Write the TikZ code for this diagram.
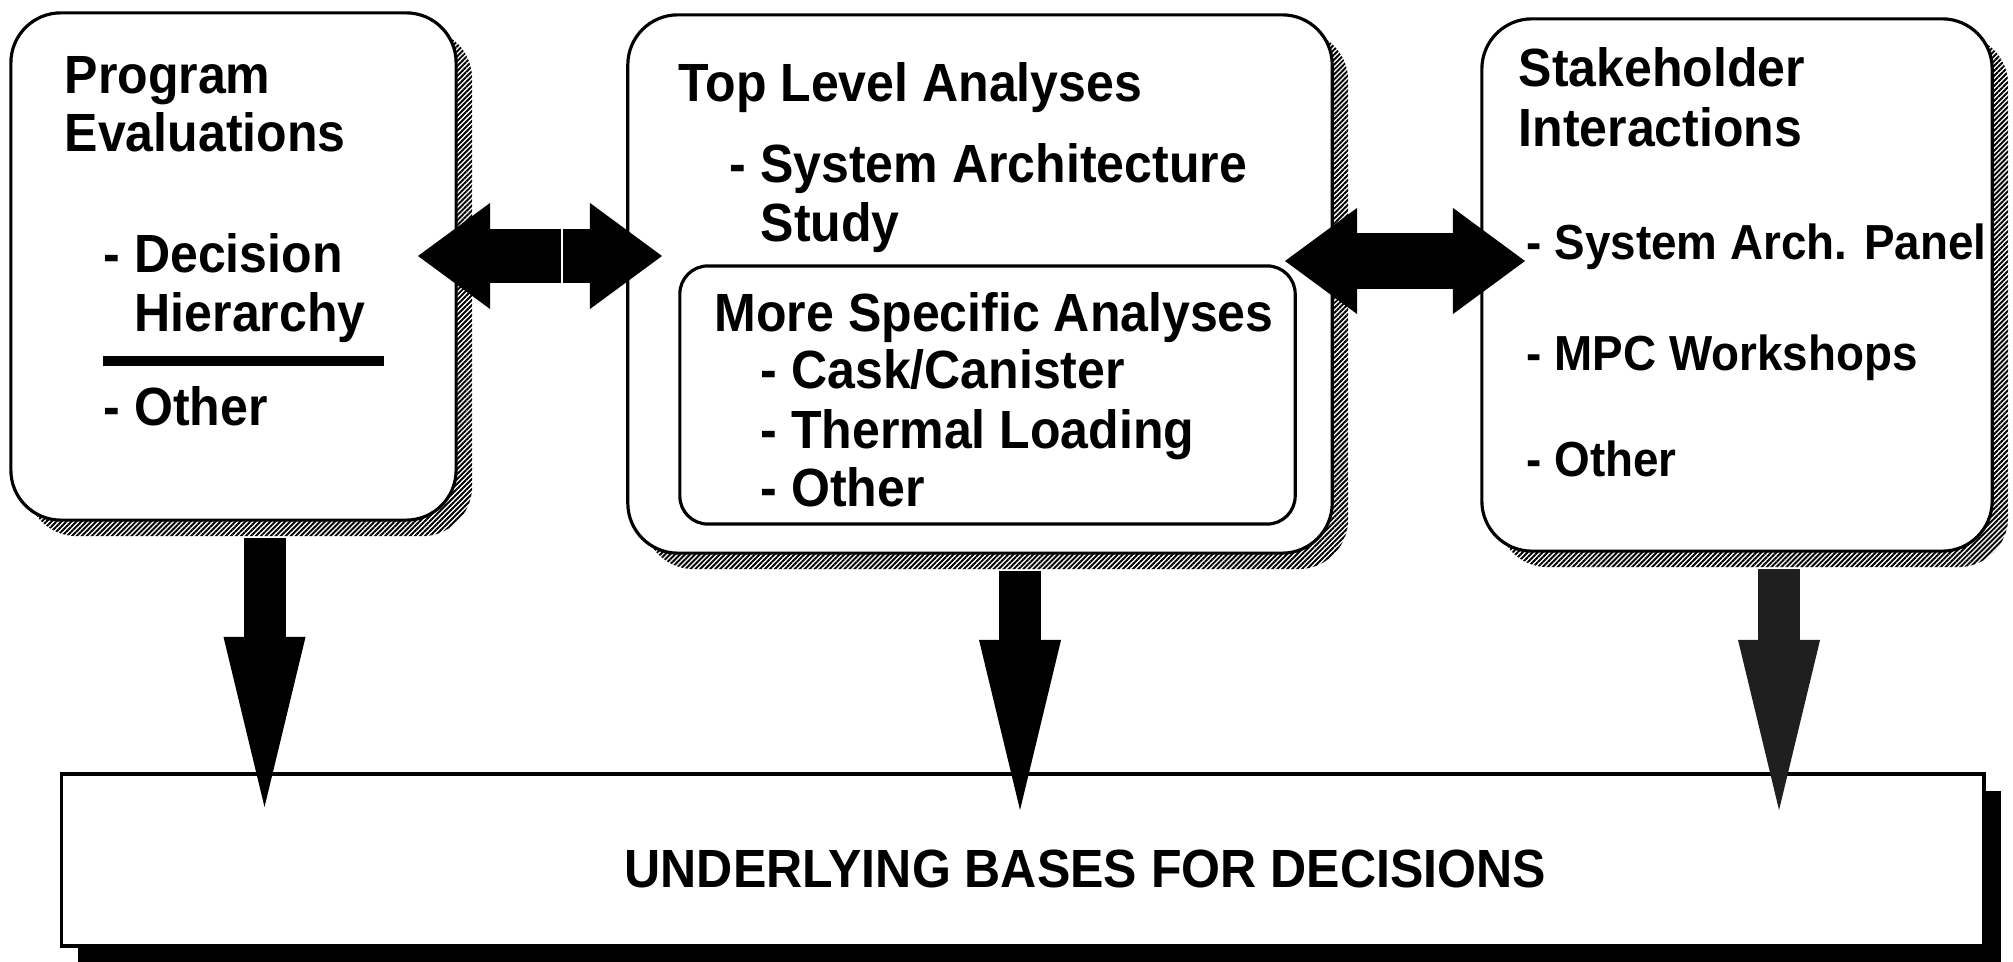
\documentclass[tikz,border=0pt]{standalone}
\usepackage{fontspec}
\setmainfont{Liberation Sans}[FakeStretch=0.93]
\usetikzlibrary{arrows.meta,shadows,patterns.meta}

\newcommand{\panelfont}{\bfseries\fontsize{15.3pt}{18pt}\selectfont}
\newcommand{\itemfont}{\bfseries\fontsize{14pt}{17pt}\selectfont}

\tikzset{
	hatch/.style={pattern={Lines[angle=45,distance=1pt,line width=.55pt]}, pattern color=black},
	panel/.style={draw, line width=.9pt, fill=white, rounded corners=.5cm,
		drop shadow={opacity=1, hatch, shadow xshift=.16cm, shadow yshift=-.16cm}},
	subpanel/.style={draw, line width=.9pt, fill=white, rounded corners=.28cm},
	basebox/.style={draw, line width=1.1pt, fill=white,
		drop shadow={opacity=1, fill=black, shadow xshift=.17cm, shadow yshift=-.17cm}},
	txt/.style={anchor=base west, inner sep=0pt, font=\panelfont},
	itm/.style={txt, font=\itemfont},
	sidetip/.tip={Triangle[length=.72cm, width=1.06cm, line width=0pt]},
	downtip/.tip={Triangle[length=1.7cm, width=.82cm, line width=0pt]},
	sidearrow/.style={line width=.54cm, -{sidetip}},
	bothways/.style={line width=.55cm, {sidetip}-{sidetip}},
	downarrow/.style={line width=.42cm, -{downtip}},
}

\begin{document}
\begin{tikzpicture}[x=0.01cm, y=-0.01cm]
	\useasboundingbox (0,0) rectangle (2013,961);

	% the three panels and the base
	\node[panel, minimum width=4.45cm, minimum height=5.07cm] (prog) at (233.5,266.5) {};
	\node[panel, minimum width=7.04cm, minimum height=5.38cm] (toplvl) at (980,284) {};
	\node[panel, minimum width=5.10cm, minimum height=5.32cm] (stake) at (1737,285) {};
	\node[subpanel, minimum width=6.15cm, minimum height=2.58cm] (specific) at (987.5,395) {};
	\node[basebox, minimum width=19.21cm, minimum height=1.72cm] (bases) at (1022.5,860) {};

	% left panel
	\node[txt] (prog1) at (64,94) {Program};
	\node[txt] (prog2) at (64,152) {Evaluations};
	\node[txt] (prog3) at (103,273) {- Decision};
	\node[txt] (prog4) at (134,332) {Hierarchy};
	\draw[line width=.1cm] (103,361) -- (384,361);
	\node[txt] (prog5) at (103,425) {- Other};

	% middle panel
	\node[txt] (top1) at (678,102) {Top Level Analyses};
	\node[txt] (top2) at (729,183) {- System Architecture};
	\node[txt] (top3) at (760,242) {Study};
	\node[txt] (spec1) at (714,331) {More Specific Analyses};
	\node[txt] (spec2) at (760,389) {- Cask/Canister};
	\node[txt] (spec3) at (760,448) {- Thermal Loading};
	\node[txt] (spec4) at (760,506) {- Other};

	% right panel
	\node[txt] (stake1) at (1518,87) {Stakeholder};
	\node[txt] (stake2) at (1518,147) {Interactions};
	\node[itm] (stake3) at (1526,260) {- System Arch. Panel};
	\node[itm] (stake4) at (1526,370) {- MPC Workshops};
	\node[itm] (stake5) at (1526,476) {- Other};

	\node[txt] (basetxt) at (624,887) {UNDERLYING BASES FOR DECISIONS};

	% two-way arrows between the panels
	\coordinate (lt) at (418,256);
	\coordinate (lm) at (562,256);
	\coordinate (rt) at (662,256);
	\draw[sidearrow] ([xshift=-.25pt]lm) -- (lt);
	\draw[sidearrow] ([xshift=.25pt]lm) -- (rt);
	\coordinate (st) at (1285,261);
	\coordinate (se) at (1525,261);
	\draw[bothways] (st) -- (se);

	% down into the base
	\draw[downarrow] ([xshift=.31cm,yshift=-.16cm]prog.south) -- ([xshift=.31cm,yshift=-.35cm]prog.south |- bases.north);
	\draw[downarrow] ([xshift=.40cm,yshift=-.16cm]toplvl.south) -- ([xshift=.40cm,yshift=-.38cm]toplvl.south |- bases.north);
	\draw[downarrow, black!88] ([xshift=.42cm,yshift=-.16cm]stake.south) -- ([xshift=.42cm,yshift=-.38cm]stake.south |- bases.north);
\end{tikzpicture}
\end{document}
